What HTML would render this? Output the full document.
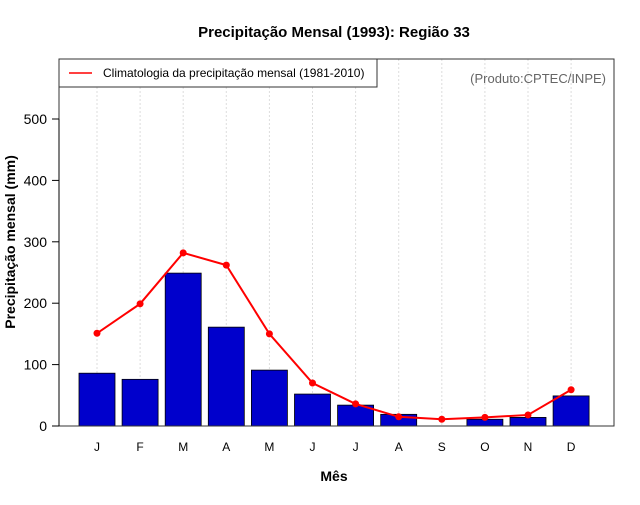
<!DOCTYPE html>
<html><head><meta charset="utf-8"><style>
body{margin:0;background:#fff;}
svg text{font-family:"Liberation Sans",sans-serif;}
</style></head><body>
<svg id="chart" width="640" height="500" xmlns="http://www.w3.org/2000/svg">
<text x="334" y="37" text-anchor="middle" font-size="15" font-weight="bold">Precipitação Mensal (1993): Região 33</text>
<g id="grid"></g>
<g id="bars"></g>
<g id="line"></g>
<rect x="59" y="59" width="555" height="367" fill="none" stroke="#333" stroke-width="1"/>
<g id="yaxis"></g>
<g id="xaxis"></g>
<text x="334" y="481" text-anchor="middle" font-size="14" font-weight="bold">Mês</text>
<text transform="translate(15,242) rotate(-90)" text-anchor="middle" font-size="14" font-weight="bold">Precipitação mensal (mm)</text>
<g>
<rect x="59" y="59" width="318" height="28" fill="#fff" stroke="#333"/>
<line x1="69" y1="73" x2="92" y2="73" stroke="red" stroke-width="1.5"/>
<text x="103" y="77" font-size="12">Climatologia da precipitação mensal (1981-2010)</text>
</g>
<text x="606" y="83" text-anchor="end" font-size="13" fill="#666">(Produto:CPTEC/INPE)</text>
</svg>
<script>
const months=["J","F","M","A","M","J","J","A","S","O","N","D"];
const precip=[86,76,249,161,91,52,34,19,0,11,14,49];
const climatology=[151,199,282,262,150,70,36,15,11,14,18,59];
const yTicks=[0,100,200,300,400,500];
const NS="http://www.w3.org/2000/svg";
const yScale=v=>426-v*0.614;
const xScale=i=>97+i*43.1;
function mk(tag,attrs,parent){const e=document.createElementNS(NS,tag);for(const k in attrs)e.setAttribute(k,attrs[k]);parent.appendChild(e);return e;}
const grid=document.getElementById('grid'),bars=document.getElementById('bars'),line=document.getElementById('line'),ya=document.getElementById('yaxis'),xa=document.getElementById('xaxis');
months.forEach((m,i)=>{
 const g=mk('line',{x1:xScale(i),x2:xScale(i),y1:59,y2:426,stroke:'#ddd','stroke-dasharray':'2,2'},grid);
 
 
 const b=mk('rect',{x:xScale(i)-18,y:yScale(precip[i]),width:36,height:426-yScale(precip[i]),fill:'#0000cc',stroke:'#000','stroke-width':0.8},bars);
 
 
 const t=mk('text',{x:xScale(i),y:451,'text-anchor':'middle','font-size':12},xa);
 t.textContent=m;
 
 
});
const pl=mk('polyline',{points:climatology.map((v,i)=>xScale(i)+','+yScale(v)).join(' '),fill:'none',stroke:'red','stroke-width':2},line);


climatology.forEach((v,i)=>{
 const c=mk('circle',{cx:xScale(i),cy:yScale(v),r:3.5,fill:'red'},line);
 
 
});
mk('line',{x1:59,x2:59,y1:yScale(0),y2:yScale(500),stroke:'#000'},ya);
yTicks.forEach(v=>{
 mk('line',{x1:52,x2:59,y1:yScale(v),y2:yScale(v),stroke:'#000'},ya);
 const t=mk('text',{x:47,y:yScale(v)+5,'text-anchor':'end','font-size':14},ya);
 t.textContent=v;
 
 
});
</script>
</body></html>
